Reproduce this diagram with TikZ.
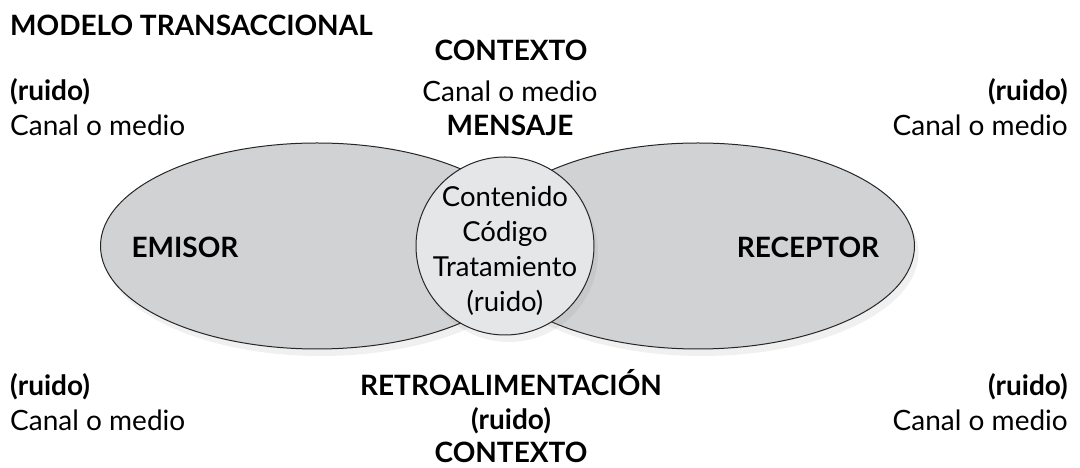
\documentclass[tikz,border=0pt]{standalone}
\usepackage{fontspec}
\setmainfont{Lato}
\usetikzlibrary{shapes.geometric,shadows}
\definecolor{lobegray}{RGB}{209,210,212}
\definecolor{coregray}{RGB}{229,230,232}
\tikzset{
  txt/.style={font=\fontsize{28}{32}\selectfont, inner sep=0pt},
  bld/.style={font=\fontsize{28}{32}\selectfont\bfseries, inner sep=0pt},
  lobe/.style={ellipse, draw=black!85, line width=1pt, fill=lobegray,
    minimum width=433pt, minimum height=206pt,
    drop shadow={shadow xshift=4pt, shadow yshift=-7pt, opacity=.12}},
  core/.style={circle, draw=black!85, line width=1pt, fill=coregray,
    minimum size=178pt, inner sep=0pt,
    drop shadow={shadow xshift=4pt, shadow yshift=-7pt, opacity=.12}},
  coretxt/.style={align=center, inner sep=0pt,
    font=\fontsize{27.5}{35}\selectfont}
}
\begin{document}
\begin{tikzpicture}[x=1pt,y=1pt]
\useasboundingbox (0,0) rectangle (1080,468);
% title
\node[bld, anchor=base west] (title) at (10,432) {MODELO TRANSACCIONAL};
% top
\node[bld, anchor=base] (ctxtop) at (511,407) {CONTEXTO};
\node[txt, anchor=base] (canaltop) at (510,366) {Canal o medio};
\node[bld, anchor=base] (mensaje) at (510,332) {MENSAJE};
\node[bld, anchor=base west] (ruidoTL) at (10,367) {(ruido)};
\node[txt, anchor=base west] (canalTL) at (10,332) {Canal o medio};
\node[bld, anchor=base east] (ruidoTR) at (1068,367) {(ruido)};
\node[txt, anchor=base east] (canalTR) at (1068,332) {Canal o medio};
% lobes and message
\node[lobe] (lobeL) at (317,222) {};
\node[lobe] (lobeR) at (698,222) {};
\node[core] (core) at (505,222) {};
\node[coretxt] (coretext) at ([yshift=-5pt]core.center) {Contenido\\Código\\Tratamiento\\(ruido)};
\node[bld, anchor=base] (emisor) at (185,210) {EMISOR};
\node[bld, anchor=base] (receptor) at (808,210) {RECEPTOR};
% bottom
\node[bld, anchor=base west] (ruidoBL) at (10,72) {(ruido)};
\node[txt, anchor=base west] (canalBL) at (10,37) {Canal o medio};
\node[bld, anchor=base] (retro) at (511,72) {RETROALIMENTACIÓN};
\node[bld, anchor=base] (ruidoB) at (511,38) {(ruido)};
\node[bld, anchor=base] (ctxbot) at (511,5) {CONTEXTO};
\node[bld, anchor=base east] (ruidoBR) at (1068,72) {(ruido)};
\node[txt, anchor=base east] (canalBR) at (1068,37) {Canal o medio};
\end{tikzpicture}
\end{document}
